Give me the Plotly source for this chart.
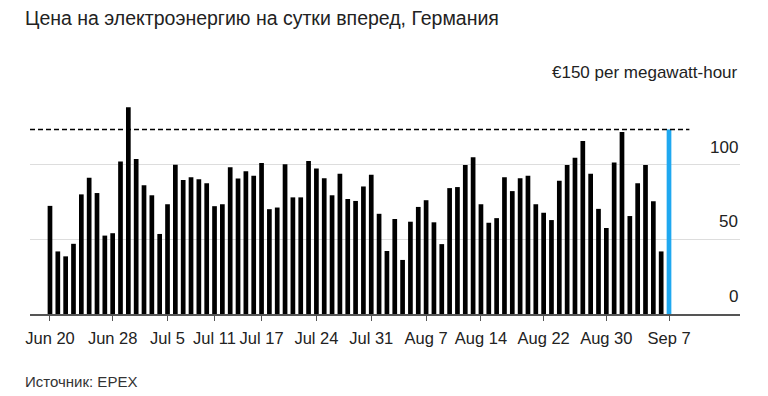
import pandas as pd
import plotly.graph_objects as go

# ---- data ----
dates = pd.date_range("2023-06-20", "2023-09-07", freq="D")
prices = [
    72.4, 41.9, 38.6, 47.0, 80.1, 91.2, 81.0, 52.5, 54.1, 102.2,
    138.4, 103.8, 86.3, 79.5, 53.6, 73.5, 100.0, 89.8, 91.6, 90.3,
    87.6, 72.2, 73.5, 98.2, 90.7, 95.6, 92.5, 101.1, 70.2, 71.3,
    100.2, 78.1, 78.1, 102.4, 97.4, 90.9, 79.5, 94.0, 77.0, 75.7,
    85.4, 93.2, 67.1, 42.2, 63.6, 36.2, 61.8, 71.7, 76.2, 61.4,
    46.8, 84.3, 85.0, 99.8, 104.9, 73.5, 61.1, 64.2, 91.6, 82.3,
    90.9, 92.5, 73.5, 67.8, 62.9, 89.2, 99.8, 104.6, 115.9, 94.0,
    70.4, 57.6, 101.5, 121.9, 65.6, 87.6, 99.8, 75.5, 41.9, 123.6,
]
tick_dates = ["2023-06-20", "2023-06-28", "2023-07-05", "2023-07-11", "2023-07-17",
              "2023-07-24", "2023-07-31", "2023-08-07", "2023-08-14", "2023-08-22",
              "2023-08-30", "2023-09-07"]
tick_labels = ["Jun 20", "Jun 28", "Jul 5", "Jul 11", "Jul 17", "Jul 24", "Jul 31",
               "Aug 7", "Aug 14", "Aug 22", "Aug 30", "Sep 7"]
y_ticks = [0, 50, 100, 150]
y_tick_labels = ["0", "50", "100", "€150 per megawatt-hour"]

title = "Цена на электроэнергию на сутки вперед, Германия"
source = "Источник: EPEX"

FONT = "Liberation Sans, Arial, sans-serif"
colors = ["#000000"] * (len(prices) - 1) + ["#1fa8f0"]

W, H = 768, 396
OFF = 8  # page body margin offset
L, R_EDGE, T, B_EDGE = 30 - OFF, 740 - OFF, 89.5 - OFF, 314.5 - OFF
plot_w = R_EDGE - L
plot_h = B_EDGE - T

x_start = dates[0] - pd.Timedelta(days=2.55)
x_end = dates[-1] + pd.Timedelta(days=9.06)

fig = go.Figure()
fig.add_trace(go.Bar(x=dates, y=prices, marker=dict(color=colors, line=dict(width=0)),
                     hoverinfo="x+y"))

# dashed reference line at latest value
fig.add_shape(type="line", xref="x", yref="y",
              x0=x_start, x1=dates[-1] + pd.Timedelta(days=2.6),
              y0=prices[-1], y1=prices[-1],
              line=dict(color="#000000", width=1.5, dash="5px,3px"), layer="above")


def px_to_paper(px_x, px_y):
    return (px_x - OFF - L) / plot_w, 1 - (px_y - OFF - T) / plot_h


annotations = []
for v, lab in zip(y_ticks, y_tick_labels):
    annotations.append(dict(x=1, xref="paper", xanchor="right", y=v, yref="y",
                            yanchor="bottom", yshift=6, text=lab, showarrow=False,
                            font=dict(family=FONT, size=17, color="#222")))
tx, ty = px_to_paper(23, 17.5)
annotations.append(dict(x=tx, xref="paper", xanchor="left", y=ty, yref="paper",
                        yanchor="middle", text=title, showarrow=False,
                        font=dict(family=FONT, size=19.5, color="#222")))
sx, sy = px_to_paper(23, 382)
annotations.append(dict(x=sx, xref="paper", xanchor="left", y=sy, yref="paper",
                        yanchor="middle", text=source, showarrow=False,
                        font=dict(family=FONT, size=15, color="#333")))

fig.update_layout(
    width=W, height=H,
    margin=dict(l=L, r=W - R_EDGE, t=T, b=H - B_EDGE, autoexpand=False),
    paper_bgcolor="white", plot_bgcolor="white",
    bargap=0.4,
    showlegend=False,
    font=dict(family=FONT, color="#222"),
    xaxis=dict(type="date", range=[x_start, x_end],
               tickvals=tick_dates, ticktext=tick_labels,
               ticks="outside", ticklen=5, tickcolor="#555", tickwidth=1,
               ticklabelstandoff=3,
               showline=True, linecolor="#555", linewidth=1.5,
               showgrid=False, zeroline=False,
               tickfont=dict(family=FONT, size=16.5, color="#222")),
    yaxis=dict(range=[0, 150], tickvals=y_ticks, showticklabels=False,
               showgrid=True, gridcolor="#dddddd", gridwidth=1, zeroline=False),
    annotations=annotations,
)

fig.write_html("out.html")
